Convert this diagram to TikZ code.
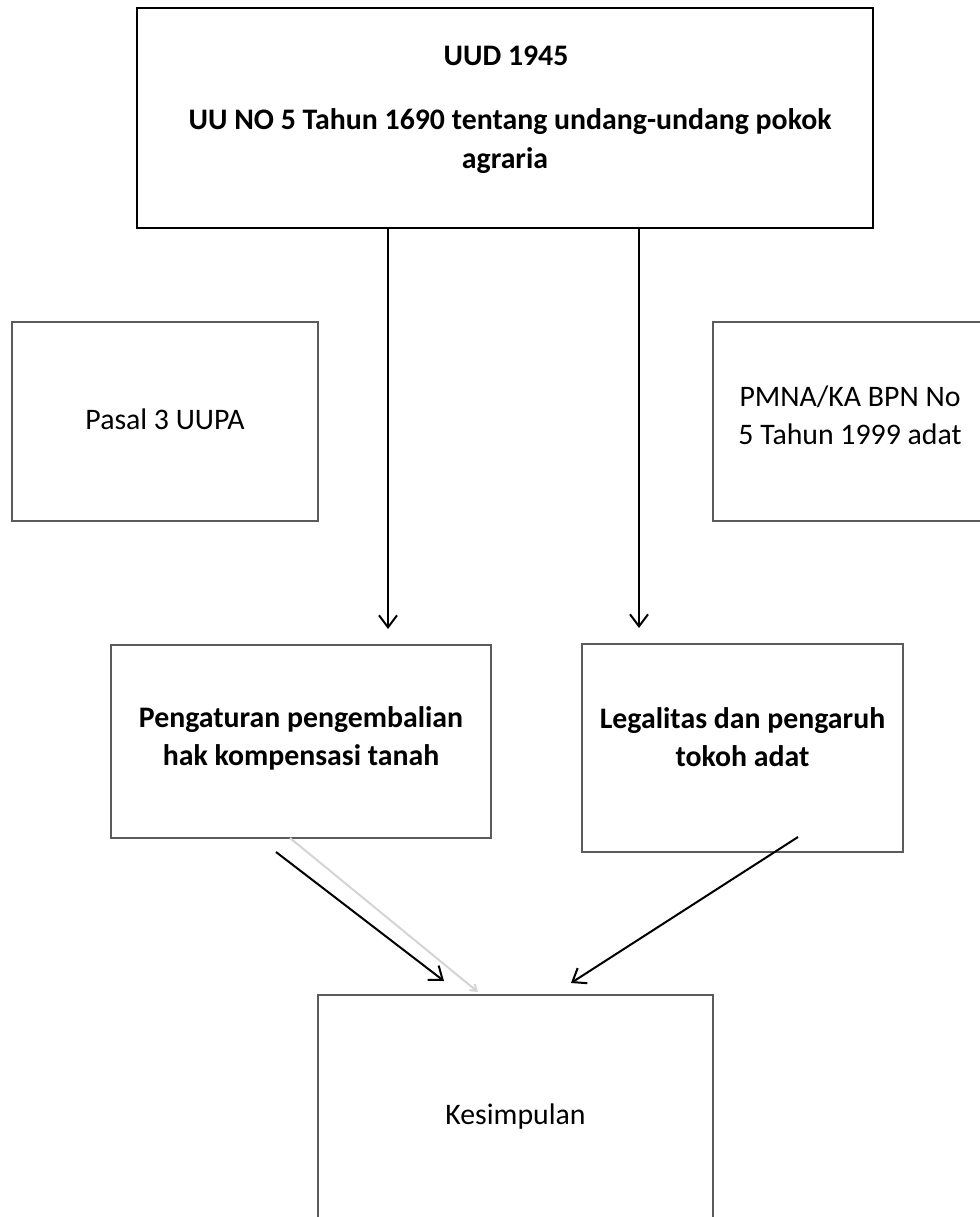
\documentclass[tikz,border=0pt]{standalone}
\usepackage{fontspec}
\setmainfont{Carlito}
\usetikzlibrary{arrows.meta}
\definecolor{boxgrey}{HTML}{5B5B5B}
\definecolor{faint}{HTML}{D4D4D4}
\begin{document}
\begin{tikzpicture}[x=1pt,y=-1pt,
  box/.style={draw=boxgrey, line width=2pt, inner sep=0pt, outer sep=0pt},
  topbox/.style={draw=black, line width=2.6pt, inner sep=0pt, outer sep=0pt},
  txt/.style={font=\fontsize{29.8}{38}\selectfont, inner sep=0pt, anchor=base},
  btxt/.style={txt, font=\fontsize{29.8}{38}\selectfont\bfseries},
  arr/.style={draw=black, line width=2pt, -{Straight Barb[length=12pt,width=18pt,line width=2pt]}},
  farr/.style={draw=faint, line width=2pt, -{Straight Barb[length=6pt,width=8pt,line width=2pt]}}]
\useasboundingbox (0,0) rectangle (979,1217);
% boxes
\node[topbox, minimum width=736pt, minimum height=220pt] (top) at (505,118) {};
\node[box, minimum width=306pt, minimum height=199pt] (pasal) at (165,421.5) {};
\node[box, minimum width=273pt, minimum height=199pt] (pmna) at (849.5,421.5) {};
\node[box, minimum width=380pt, minimum height=193pt] (peng) at (301,741.5) {};
\node[box, minimum width=321pt, minimum height=208pt] (leg) at (742.5,748) {};
\node[box, minimum width=395pt, minimum height=245pt] (kes) at (515.5,1117.5) {};
% texts
\node[btxt] (t1) at (506,66) {UUD 1945};
\node[btxt] (t2) at (510,130) {UU NO 5 Tahun 1690 tentang undang-undang pokok};
\node[btxt] (t3) at (505,168) {agraria};
\node[txt] (t4) at (165,429) {Pasal 3 UUPA};
\node[txt] (t5) at (850,406) {PMNA/KA BPN No};
\node[txt] (t6) at (850,444) {5 Tahun 1999 adat};
\node[btxt] (t7) at (301,727) {Pengaturan pengembalian};
\node[btxt] (t8) at (301,765) {hak kompensasi tanah};
\node[btxt] (t9) at (742.5,728) {Legalitas dan pengaruh};
\node[btxt] (t10) at (742.5,766) {tokoh adat};
\node[txt] (t11) at (515.5,1124) {Kesimpulan};
% connector ends
\coordinate (e1) at (388,629);
\coordinate (e2) at (639,628);
\coordinate (s3) at (276,852);
\coordinate (e3) at (444,981);
\coordinate (e4) at (478,992);
\coordinate (s5) at (798,837);
\coordinate (e5) at (571,983);
% connectors
\draw[arr] (top.south -| e1) -- (e1);
\draw[arr] (top.south -| e2) -- (e2);
\draw[farr] (peng.south -| 290,0) -- (e4);
\draw[arr] (s3) -- (e3);
\draw[arr] (s5) -- (e5);
\end{tikzpicture}
\end{document}
